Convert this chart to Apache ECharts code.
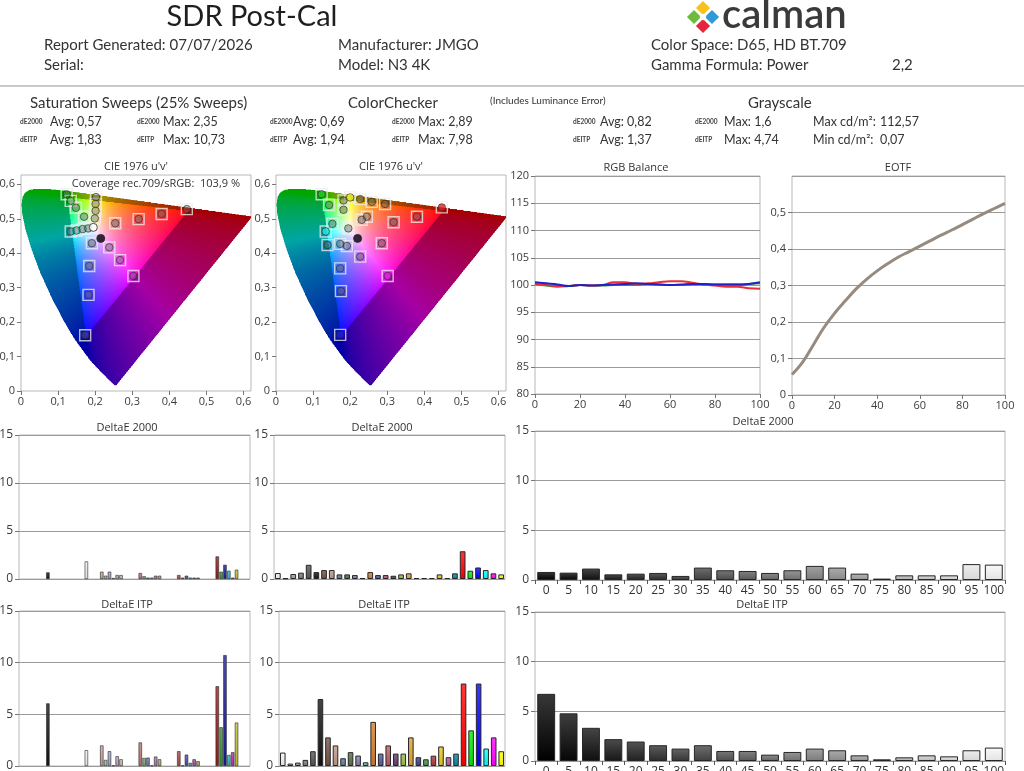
<!DOCTYPE html>
<html>
<head>
<meta charset="utf-8">
<title>SDR Post-Cal</title>
<script src="https://cdn.jsdelivr.net/npm/echarts@6.0.0/dist/echarts.min.js"></script>
<style>
  html, body { margin: 0; padding: 0; background: #fff; }
  #report { width: 1024px; height: 771px; }
</style>
</head>
<body>
<div id="report"></div>
<script>
// ---------- values ----------
const stimulus = [0, 5, 10, 15, 20, 25, 30, 35, 40, 45, 50, 55, 60, 65, 70, 75, 80, 85, 90, 95, 100];

const rgbRed   = [100.2, 100.0, 99.8, 99.8, 100.0, 99.9, 100.0, 100.5, 100.5, 100.2, 100.3, 100.5, 100.7, 100.7, 100.4, 100.1, 99.9, 99.7, 99.7, 99.4, 99.3];
const rgbGreen = [100.2, 99.9, 99.7, 99.8, 100.0, 99.9, 99.9, 100.0, 100.0, 100.0, 100.2, 100.1, 100.0, 100.0, 100.1, 100.1, 100.1, 100.1, 100.1, 100.2, 100.3];
const rgbBlue  = [100.5, 100.3, 100.1, 99.8, 100.0, 99.9, 100.0, 100.1, 100.2, 100.3, 100.2, 100.1, 100.0, 100.1, 100.2, 100.2, 100.1, 100.1, 100.1, 100.2, 100.5];

const eotf = [0.056, 0.09, 0.137, 0.185, 0.224, 0.258, 0.29, 0.317, 0.34, 0.36, 0.378, 0.393, 0.408, 0.423, 0.438, 0.452, 0.467, 0.482, 0.497, 0.511, 0.525];

const grayDE2000 = [0.81, 0.74, 1.15, 0.57, 0.64, 0.71, 0.41, 1.25, 0.98, 0.91, 0.71, 0.98, 1.42, 1.25, 0.64, 0.14, 0.47, 0.47, 0.47, 1.6, 1.55];
const grayITP    = [6.76, 4.8, 3.34, 2.2, 1.96, 1.59, 1.25, 1.59, 1.01, 1.01, 0.64, 0.91, 1.25, 1.08, 0.57, 0.17, 0.37, 0.57, 0.47, 1.08, 1.35];

// saturation sweeps: [black, white] then 25/50/75/100 % groups of R G B C M Y
const satNeutralDE  = [0.69, 1.83];
const satDE25  = [0.76, 0.34, 0.76, 0.10, 0.41, 0.41];
const satDE50  = [0.62, 0.28, 0.14, 0.14, 0.34, 0.34];
const satDE75  = [0.41, 0.14, 0.34, 0.14, 0.14, 0.14];
const satDE100 = [2.35, 0.76, 1.48, 0.86, 0.14, 0.97];
const satNeutralITP = [6.06, 1.53];
const satITP25  = [1.99, 0.59, 1.43, 0.05, 0.94, 0.65];
const satITP50  = [2.28, 0.78, 0.81, 0.05, 0.91, 0.65];
const satITP75  = [1.43, 0.05, 1.10, 0.30, 0.65, 0.46];
const satITP100 = [7.72, 3.75, 10.73, 1.07, 1.33, 4.2];

// ColorChecker, 30 patches
const ccDE2000 = [0.62, 0.07, 0.52, 0.66, 1.48, 0.72, 0.93, 0.93, 0.48, 0.48, 0.41, 0.10, 0.72, 0.41, 0.41,
                  0.34, 0.48, 0.59, 0.10, 0.10, 0.10, 0.48, 0.10, 0.59, 2.89, 0.86, 1.20, 0.93, 0.59, 0.48];
const ccITP    = [1.30, 0.23, 0.33, 0.59, 1.43, 6.48, 2.77, 1.99, 0.75, 1.34, 1.01, 0.36, 4.27, 1.20, 1.99,
                  1.20, 1.20, 2.77, 0.85, 0.65, 1.00, 1.89, 0.85, 1.20, 7.98, 3.45, 7.98, 1.69, 2.77, 1.43];

// CIE 1976 u'v'
const locusUV = [[0.2568, 0.0166], [0.2522, 0.0169], [0.2347, 0.0350], [0.2161, 0.0549], [0.1877, 0.0871],
  [0.1441, 0.1510], [0.1147, 0.2044], [0.0828, 0.2708], [0.0521, 0.3427], [0.0282, 0.4117], [0.0119, 0.4698],
  [0.0035, 0.5131], [0.0014, 0.5432], [0.0046, 0.5638], [0.0123, 0.5770], [0.0231, 0.5837], [0.0360, 0.5861],
  [0.0501, 0.5868], [0.0792, 0.5856], [0.1127, 0.5821], [0.1531, 0.5766], [0.2026, 0.5694], [0.2623, 0.5604],
  [0.3315, 0.5501], [0.4035, 0.5393], [0.4692, 0.5296], [0.5203, 0.5219], [0.5830, 0.5125], [0.6234, 0.5065]];

const satSweepUV = [
  [0.123, 0.571], [0.134, 0.552], [0.148, 0.532], [0.170, 0.506],
  [0.202, 0.563], [0.201, 0.543], [0.201, 0.523], [0.199, 0.501],
  [0.134, 0.463], [0.150, 0.466], [0.166, 0.470], [0.181, 0.472],
  [0.447, 0.528], [0.379, 0.514], [0.317, 0.499], [0.254, 0.487],
  [0.303, 0.334], [0.267, 0.380], [0.238, 0.417],
  [0.173, 0.162], [0.182, 0.279], [0.184, 0.363], [0.191, 0.429]];
const satWhiteUV = [[0.195, 0.475]];
const satBlackUV = [[0.215, 0.443]];

const ccUV = [
  [0.123, 0.571], [0.143, 0.540], [0.182, 0.553], [0.200, 0.562], [0.227, 0.557], [0.258, 0.549],
  [0.294, 0.543], [0.182, 0.526], [0.447, 0.533], [0.380, 0.506], [0.317, 0.490], [0.245, 0.506],
  [0.231, 0.497], [0.152, 0.485], [0.195, 0.472], [0.134, 0.463], [0.139, 0.424], [0.173, 0.427],
  [0.191, 0.421], [0.285, 0.429], [0.227, 0.390], [0.173, 0.356], [0.301, 0.334], [0.175, 0.290],
  [0.173, 0.163]];
const ccBlackUV = [[0.220, 0.443]];

// ---------- styles ----------
const HEAD_FONT = 'Lato, "Open Sans", sans-serif';
const UI_FONT = '"Open Sans", "DejaVu Sans", sans-serif';
const CIE_UMAX = 0.62;
const CIE_VMAX = 0.627;

const satColors = [
  ['#c9a0a0', '#9fc0a6', '#a4a4c8', '#a0c8c8', '#c4a0c4', '#c8c4a0'],
  ['#c07474', '#74a878', '#7474b8', '#70b0b0', '#b074b0', '#b0ac70'],
  ['#b04848', '#489848', '#4848b0', '#48a8a8', '#a848a8', '#a8a448'],
  ['#9a1a1a', '#2c9a2c', '#1a1a98', '#2cb4c4', '#b82cb0', '#c4c02c']];
const ccColors = ['#f4f4f4', '#c8c8c8', '#a0a0a0', '#7a7a7a', '#555555', '#111111', '#735244', '#c29682',
  '#627a9d', '#576c43', '#8580b1', '#67bdaa', '#d67e2c', '#505ba6', '#c15a63', '#5e3c6c', '#9dbc40',
  '#e0a32e', '#383d96', '#469449', '#af363c', '#e7c71f', '#bb5695', '#0885a1', '#ff0000', '#00ee00',
  '#0000ff', '#00ffff', '#ff00ff', '#ffff00'];
const ccDotColors = {0: '#22cc22', 3: '#eeee22', 8: '#e02020', 15: '#22e8e8', 22: '#d820d8', 24: '#2020d0'};

function mix(hex, target, t) {
  const c = parseInt(hex.slice(1), 16);
  const r = (c >> 16) & 255, g = (c >> 8) & 255, b = c & 255;
  const m = (a) => Math.round(a + (target - a) * t);
  return `rgb(${m(r)},${m(g)},${m(b)})`;
}
function barFill(hex) {
  return new echarts.graphic.LinearGradient(0, 0, 0, 1, [
    {offset: 0, color: mix(hex, 255, 0.22)},
    {offset: 1, color: mix(hex, 0, 0.08)}
  ]);
}
function grayHex(p) {
  const g = Math.round(255 * Math.pow(p / 100, 1.2) * 0.97);
  const h = g.toString(16).padStart(2, '0');
  return '#' + h + h + h;
}

// ---------- gamut image ----------
function inPoly(u, v, poly) {
  let inside = false;
  for (let i = 0, j = poly.length - 1; i < poly.length; j = i++) {
    const [xi, yi] = poly[i], [xj, yj] = poly[j];
    if ((yi > v) !== (yj > v) && u < (xj - xi) * (v - yi) / (yj - yi) + xi) inside = !inside;
  }
  return inside;
}
function buildGamutImage(size) {
  const cv = document.createElement('canvas');
  cv.width = size; cv.height = size;
  const ctx = cv.getContext('2d');
  const img = ctx.createImageData(size, size);
  for (let j = 0; j < size; j++) {
    for (let i = 0; i < size; i++) {
      const u = (i + 0.5) / size * CIE_UMAX;
      const v = (1 - (j + 0.5) / size) * CIE_VMAX;
      if (!inPoly(u, v, locusUV)) continue;
      const d = 6 * u - 16 * v + 12;
      const x = 9 * u / d, y = 4 * v / d;
      const X = x / y, Z = (1 - x - y) / y;
      let r = 3.2406 * X - 1.5372 - 0.4986 * Z;
      let g = -0.9689 * X + 1.8758 + 0.0415 * Z;
      let b = 0.0557 * X - 0.2040 + 1.0570 * Z;
      const inGamut = r >= 0 && g >= 0 && b >= 0;
      r = Math.max(r, 0); g = Math.max(g, 0); b = Math.max(b, 0);
      const m = Math.max(r, g, b) || 1;
      const k = inGamut ? 255 : 165;
      const gam = inGamut ? 1 / 1.55 : 1 / 1.9;
      const o = (j * size + i) * 4;
      img.data[o] = Math.pow(r / m, gam) * k;
      img.data[o + 1] = Math.pow(g / m, gam) * k;
      img.data[o + 2] = Math.pow(b / m, gam) * k;
      img.data[o + 3] = 255;
    }
  }
  ctx.putImageData(img, 0, 0);
  return cv;
}
const gamutImage = buildGamutImage(460);

// ---------- layout ----------
const grids = [
  {left: 21, top: 175, width: 230, height: 216},   // 0 CIE sat sweeps
  {left: 276, top: 175, width: 230, height: 216},  // 1 CIE colorchecker
  {left: 535, top: 176, width: 225, height: 218},  // 2 RGB balance
  {left: 792, top: 176, width: 213, height: 219},  // 3 EOTF
  {left: 19, top: 435, width: 231, height: 144},   // 4 sat dE2000
  {left: 274, top: 435, width: 231, height: 144},  // 5 cc dE2000
  {left: 535, top: 431, width: 470, height: 149},  // 6 gray dE2000
  {left: 19, top: 611, width: 231, height: 155},   // 7 sat ITP
  {left: 279, top: 611, width: 226, height: 155},  // 8 cc ITP
  {left: 535, top: 612, width: 470, height: 149}   // 9 gray ITP
].map(g => Object.assign({show: true, borderColor: '#b8b8b8', borderWidth: 1, backgroundColor: 'transparent',
  containLabel: false, outerBoundsMode: 'none'}, g));

const comma = (v) => (Math.round(v * 100) / 100).toString().replace('.', ',');
const tick = {show: true, length: 4, lineStyle: {color: '#777'}};
const axisText = {color: '#3c3c3c', fontSize: 11, fontFamily: UI_FONT};
const gridLine = {show: true, lineStyle: {color: '#9a9a9a', width: 1}};

function valueX(gi, min, max, interval) {
  return {type: 'value', gridIndex: gi, min, max, interval, axisLine: {show: false}, axisTick: tick,
    splitLine: {show: false}, axisLabel: Object.assign({margin: 5, formatter: comma}, axisText)};
}
function valueY(gi, min, max, interval, lines, extra) {
  return Object.assign({type: 'value', gridIndex: gi, min, max, interval, axisLine: {show: false}, axisTick: tick,
    splitLine: lines ? gridLine : {show: false},
    axisLabel: Object.assign({margin: 6, formatter: comma}, axisText)}, extra || {});
}
function hiddenCat(gi, n) {
  return {type: 'category', gridIndex: gi, data: Array.from({length: n}, (_, i) => i),
    axisLine: {show: false}, axisTick: {show: false}, axisLabel: {show: false}, splitLine: {show: false}};
}
function grayCat(gi) {
  return {type: 'category', gridIndex: gi, data: stimulus.map(String), axisLine: {show: false},
    axisTick: {show: true, length: 4, alignWithLabel: false, interval: 0, lineStyle: {color: '#555'}},
    axisLabel: Object.assign({interval: 0, margin: 5}, axisText, {fontSize: 12, color: '#333'})};
}

const xAxes = [
  valueX(0, 0, CIE_UMAX, 0.1), valueX(1, 0, CIE_UMAX, 0.1), valueX(2, 0, 100, 20), valueX(3, 0, 100, 20),
  hiddenCat(4, 60), hiddenCat(5, 30), grayCat(6), hiddenCat(7, 60), hiddenCat(8, 30), grayCat(9)];
const yAxes = [
  valueY(0, 0, CIE_VMAX, 0.1, false), valueY(1, 0, CIE_VMAX, 0.1, false),
  valueY(2, 80, 120, 5, true), valueY(3, 0, 0.6, 0.1, true, {axisLabel: Object.assign({margin: 6, formatter: comma, showMaxLabel: false}, axisText)}),
  valueY(4, 0, 15, 5, true), valueY(5, 0, 15, 5, true), valueY(6, 0, 15, 5, true),
  valueY(7, 0, 15, 5, true), valueY(8, 0, 15, 5, true), valueY(9, 0, 15, 5, true)];
yAxes.slice(4).forEach(a => { a.axisLabel.fontSize = 12; });

// ---------- series ----------
function gamutSeries(gi) {
  return {type: 'custom', xAxisIndex: gi, yAxisIndex: gi, data: [[0, 0]], silent: true, z: 1, clip: false,
    renderItem: (params, api) => {
      const a = api.coord([0, CIE_VMAX]), b = api.coord([CIE_UMAX, 0]);
      return {type: 'image', style: {image: gamutImage, x: a[0], y: a[1], width: b[0] - a[0], height: b[1] - a[1]}};
    }};
}
function targetSeries(gi, pts) {
  return {type: 'scatter', xAxisIndex: gi, yAxisIndex: gi, data: pts, symbol: 'rect', symbolSize: 11, z: 3, silent: true,
    itemStyle: {color: 'rgba(0,0,0,0)', borderColor: 'rgba(238,238,238,0.95)', borderWidth: 1.4}};
}
function measuredSeries(gi, pts, colorOf) {
  return {type: 'scatter', xAxisIndex: gi, yAxisIndex: gi, symbolSize: 7.5, z: 4, silent: true,
    data: pts.map((p, i) => ({value: p, itemStyle: {color: colorOf(i), borderColor: 'rgba(35,35,35,0.75)', borderWidth: 1}}))};
}
function dotSeries(gi, pts, color) {
  return {type: 'scatter', xAxisIndex: gi, yAxisIndex: gi, data: pts, symbolSize: 8, z: 5, silent: true,
    itemStyle: {color, borderColor: '#222', borderWidth: 1}};
}
function lineSeries(gi, values, color, width) {
  return {type: 'line', xAxisIndex: gi, yAxisIndex: gi, data: values.map((v, i) => [stimulus[i], v]),
    smooth: 0.4, showSymbol: false, lineStyle: {color, width}, z: 3, silent: true};
}
function barSeries(gi, values, colors, barWidth, borderWidth) {
  return {type: 'bar', xAxisIndex: gi, yAxisIndex: gi, barWidth, silent: true,
    data: values.map((v, i) => v === '-' ? '-' : {value: v,
      itemStyle: {color: barFill(colors[i]), borderColor: '#262626', borderWidth}})};
}
// sweep chart: one slot per bar, black and white first, then the four saturation groups
const satSlotStart = [21, 31, 41, 51];
function satSlots(neutral, groups) {
  const values = new Array(60).fill('-'), colors = new Array(60).fill('#000000');
  values[7] = neutral[0]; colors[7] = '#121212';
  values[17] = neutral[1]; colors[17] = '#f2f2f2';
  groups.forEach((g, gi) => g.forEach((v, k) => {
    values[satSlotStart[gi] + k] = v; colors[satSlotStart[gi] + k] = satColors[gi][k];
  }));
  return {values, colors};
}
const satDE = satSlots(satNeutralDE, [satDE25, satDE50, satDE75, satDE100]);
const satITPs = satSlots(satNeutralITP, [satITP25, satITP50, satITP75, satITP100]);
const grayColors = stimulus.map(grayHex);

const series = [
  gamutSeries(0),
  targetSeries(0, satSweepUV),
  measuredSeries(0, satSweepUV, () => 'rgba(105,105,105,0.55)'),
  dotSeries(0, satWhiteUV, '#ffffff'),
  dotSeries(0, satBlackUV, '#000000'),
  gamutSeries(1),
  targetSeries(1, ccUV),
  measuredSeries(1, ccUV, (i) => ccDotColors[i] || 'rgba(100,100,100,0.6)'),
  dotSeries(1, ccBlackUV, '#000000'),
  lineSeries(2, rgbGreen, '#2f9a34', 2),
  lineSeries(2, rgbRed, '#e8303a', 2),
  lineSeries(2, rgbBlue, '#1c22c8', 2),
  lineSeries(3, eotf, '#968b80', 3),
  barSeries(4, satDE.values, satDE.colors, 3.4, 0.6),
  barSeries(5, ccDE2000, ccColors, '74%', 1),
  barSeries(6, grayDE2000, grayColors, '80%', 1),
  barSeries(7, satITPs.values, satITPs.colors, 3.4, 0.6),
  barSeries(8, ccITP, ccColors, '74%', 1),
  barSeries(9, grayITP, grayColors, '80%', 1)
];

// ---------- report text ----------
function text(str, x, y, size, extra) {
  return {type: 'text', x, y, silent: true, z: 10,
    style: Object.assign({text: str, fill: '#333', fontSize: size, fontFamily: HEAD_FONT,
      align: 'left', verticalAlign: 'middle'}, extra || {})};
}
function title(str, cx, y) {
  return text(str, cx, y, 11, {align: 'center', fontFamily: UI_FONT, fill: '#333'});
}
function diamond(cx, cy, s, color) {
  return {type: 'rect', x: cx, y: cy, rotation: Math.PI / 4, silent: true,
    shape: {x: -s / 2, y: -s / 2, width: s, height: s}, style: {fill: color}};
}

const statRows = [
  [122, 'dE2000', ['Avg: 0,57', 'Max: 2,35', 'Avg: 0,69', 'Max: 2,89', 'Avg: 0,82', 'Max: 1,6'], 'Max cd/m²:', '112,57'],
  [140, 'dEITP', ['Avg: 1,83', 'Max: 10,73', 'Avg: 1,94', 'Max: 7,98', 'Avg: 1,37', 'Max: 4,74'], 'Min cd/m²:', '0,07']];
const statTagX = [20, 137, 270, 392, 573, 695];
const statValX = [50, 163, 293, 418, 600, 724];

const graphic = [
  text('SDR Post-Cal', 252, 17, 29, {align: 'center', fill: '#1e1e1e'}),
  diamond(703, 8, 10, '#f7c21c'), diamond(694, 17, 10, '#6cbb3c'), diamond(712, 17, 10, '#2e9ad8'),
  diamond(703, 26, 10, '#e3263c'), diamond(703, 17, 5, '#ffffff'),
  text('calman', 722, 15, 40, {fill: '#3a3a3a', fontWeight: 600}),
  text('Report Generated: 07/07/2026', 44, 45, 15), text('Serial:', 44, 65, 15),
  text('Manufacturer: JMGO', 338, 45, 15), text('Model: N3 4K', 338, 65, 15),
  text('Color Space: D65, HD BT.709', 651, 45, 15), text('Gamma Formula: Power', 651, 65, 15),
  text('2,2', 892, 65, 15),
  {type: 'rect', silent: true, shape: {x: 0, y: 85, width: 1024, height: 2}, style: {fill: '#c9c9c9'}},
  text('Saturation Sweeps (25% Sweeps)', 30, 103, 15), text('ColorChecker', 348, 103, 15),
  text('(Includes Luminance Error)', 490, 101, 10), text('Grayscale', 748, 103, 15),
  title("CIE 1976 u'v'", 136, 167), title("CIE 1976 u'v'", 391, 167),
  text('Coverage rec.709/sRGB:  103,9 %', 240, 184, 11, {align: 'right', fontFamily: UI_FONT}),
  title('RGB Balance', 636, 168), title('EOTF', 898, 168),
  title('DeltaE 2000', 127, 428), title('DeltaE 2000', 382, 428), title('DeltaE 2000', 763, 422),
  title('DeltaE ITP', 127, 605), title('DeltaE ITP', 384, 605), title('DeltaE ITP', 762, 605)
];
statRows.forEach(([y, tag, vals, lumLabel, lumVal]) => {
  vals.forEach((v, i) => {
    graphic.push(text(tag, statTagX[i], y, 6.5, {fontWeight: 'bold', fill: '#444'}));
    graphic.push(text(v, statValX[i], y, 12.5));
  });
  graphic.push(text(lumLabel, 813, y, 12.5), text(lumVal, 880, y, 12.5));
});

const chart = echarts.init(document.getElementById('report'), null, {renderer: 'canvas'});
chart.setOption({
  animation: false,
  backgroundColor: '#ffffff',
  grid: grids,
  xAxis: xAxes,
  yAxis: yAxes,
  series,
  graphic
});
</script>
</body>
</html>
